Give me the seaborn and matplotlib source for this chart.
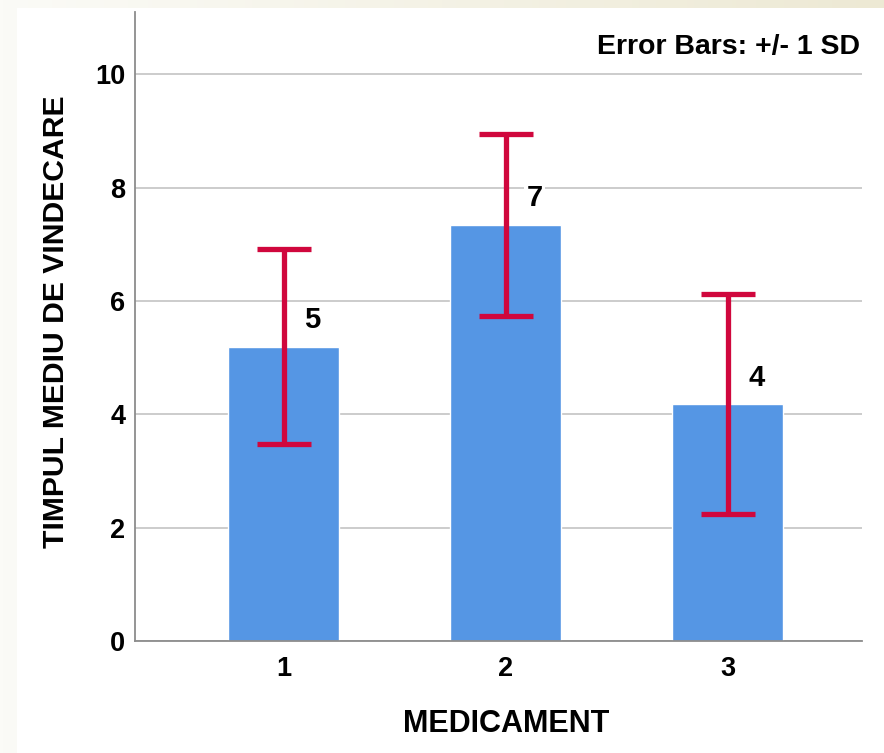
import numpy as np
import pandas as pd
import matplotlib
matplotlib.use("Agg")
import matplotlib.pyplot as plt
import seaborn as sns

# data
medicament = ["1", "2", "3"]
mean_time = [5.19, 7.34, 4.18]
sd_time = [1.72, 1.60, 1.94]
value_labels = ["5", "7", "4"]

bar_color = "#5596E4"
err_color = "#D0073D"

sns.set_theme(style="white")
plt.rcParams["font.family"] = ["Liberation Sans", "DejaVu Sans"]
plt.rcParams["font.weight"] = "bold"
plt.rcParams["text.color"] = "black"
plt.rcParams["axes.labelcolor"] = "black"
plt.rcParams["xtick.color"] = "black"
plt.rcParams["ytick.color"] = "black"

fig = plt.figure(figsize=(8.84, 7.53), dpi=100)

# slide-like cream background with white panel
bg = fig.add_axes([0, 0, 1, 1], zorder=-10)
grad = np.linspace(0, 1, 256).reshape(1, -1)
cmap = matplotlib.colors.LinearSegmentedColormap.from_list("cream", ["#FBFBF7", "#EDE9D4"])
bg.imshow(grad, aspect="auto", cmap=cmap, extent=[0, 1, 0, 1])
bg.add_patch(plt.Rectangle((17 / 884, 0), 1, 1 - 8 / 753, color="white", lw=0))
bg.set_xlim(0, 1)
bg.set_ylim(0, 1)
bg.axis("off")

ax = fig.add_axes([135 / 884, 112 / 753, 727 / 884, 629 / 753])
ax.set_facecolor("none")

df = pd.DataFrame({"MEDICAMENT": medicament, "mean": mean_time})
sns.barplot(data=df, x="MEDICAMENT", y="mean", color=bar_color, saturation=1,
            width=0.5, errorbar=None, ax=ax, zorder=2)

ax.errorbar(x=np.arange(len(medicament)), y=mean_time, yerr=sd_time, fmt="none",
            ecolor=err_color, elinewidth=3.8, capsize=19.5, capthick=3.8, zorder=4)

for i, (m, lab) in enumerate(zip(mean_time, value_labels)):
    ax.text(i + 0.13, m + 0.47, lab, ha="center", va="center", fontsize=21,
            fontweight="bold", zorder=5,
            bbox=dict(facecolor="white", edgecolor="none", pad=1.5))

ax.set_xlim(-0.67, 2.605)
ax.set_ylim(0, 11.1)
ax.set_yticks([0, 2, 4, 6, 8, 10])
ax.yaxis.grid(True, color="#C8C8C8", linewidth=1.3, zorder=0)
ax.set_axisbelow(True)

for s in ["top", "right"]:
    ax.spines[s].set_visible(False)
for s in ["left", "bottom"]:
    ax.spines[s].set_color("#8C8C8C")
    ax.spines[s].set_linewidth(1.3)

ax.tick_params(axis="both", length=0, labelsize=19.5)
ax.tick_params(axis="x", pad=11)
ax.tick_params(axis="y", pad=7)
for t in ax.get_xticklabels() + ax.get_yticklabels():
    t.set_fontweight("bold")

ax.set_xlabel("MEDICAMENT", fontsize=22, fontweight="bold")
ax.set_ylabel("TIMPUL MEDIU DE VINDECARE", fontsize=21.7, fontweight="bold")
ax.xaxis.set_label_coords(0.510, -0.108)
ax.yaxis.set_label_coords(-0.089, 0.508)

ax.text(0.997, 0.945, "Error Bars: +/- 1 SD", transform=ax.transAxes, ha="right",
        va="center", fontsize=20.5, fontweight="bold")

fig.savefig("out.png", dpi=100)
